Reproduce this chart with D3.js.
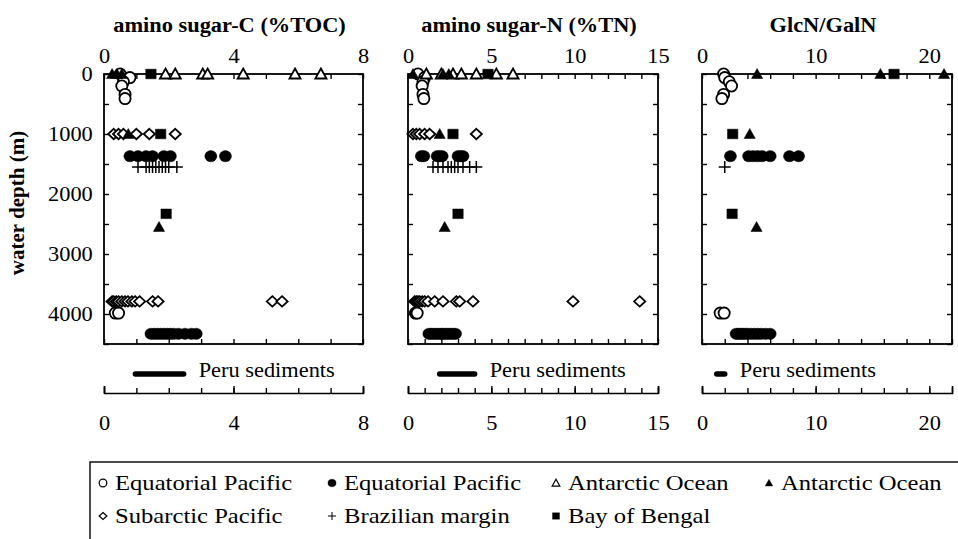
<!DOCTYPE html>
<html>
<head>
<meta charset="utf-8">
<script src="https://cdn.jsdelivr.net/npm/d3@7"></script>
<style>
  body { margin: 0; background: #fff; }
  text { font-family: "Liberation Serif", "Times New Roman", serif; fill: #000; }
</style>
</head>
<body>
<div id="viz"></div>
<script>
// ---- data ----
var panelTitles = ["amino sugar-C (%TOC)", "amino sugar-N (%TN)", "GlcN/GalN"];
var panelLabels = [[0, 4, 8], [0, 5, 10, 15], [0, 10, 20]];
var depthLabels = [0, 1000, 2000, 3000, 4000];

// Equatorial Pacific (open circles)
var eqOpenDepth = [0, 60, 130, 200, 340, 410, 3985, 3985];
var eqOpenC = [0.5, 0.8, 0.6, 0.55, 0.65, 0.65, 0.35, 0.45];
var eqOpenN = [0.6, 1.0, 0.9, 0.85, 0.9, 0.95, 0.45, 0.55];
var eqOpenR = [1.9, 2.0, 2.4, 2.6, 1.9, 1.75, 1.6, 1.95];

// Equatorial Pacific (filled circles)
var eqFillDepth = [1370, 1370, 1370, 1370, 1370, 1370, 1370, 1370,
  4330, 4330, 4330, 4330, 4330, 4330, 4330, 4330, 4330, 4330, 4330, 4330];
var eqFillC = [0.8, 1.05, 1.3, 1.5, 1.85, 2.05, 3.3, 3.75,
  1.45, 1.55, 1.65, 1.75, 1.85, 1.95, 2.05, 2.15, 2.3, 2.5, 2.7, 2.85];
var eqFillN = [0.8, 0.95, 1.75, 1.9, 2.05, 3.0, 3.15, 3.3,
  1.25, 1.4, 1.55, 1.7, 1.85, 2.0, 2.1, 2.25, 2.4, 2.55, 2.7, 2.85];
var eqFillR = [2.5, 4.1, 4.5, 4.9, 5.3, 6.0, 7.7, 8.5,
  3.0, 3.2, 3.4, 3.6, 3.8, 4.0, 4.3, 4.6, 4.9, 5.2, 5.6, 6.0];

// Antarctic Ocean (open triangles)
var antOpenDepth = [0, 0, 0, 0, 0, 0, 0];
var antOpenC = [1.9, 2.2, 3.05, 3.2, 4.3, 5.9, 6.7];
var antOpenN = [1.1, 2.0, 2.7, 3.2, 4.1, 5.3, 6.3];
var antOpenR = [];

// Antarctic Ocean (filled triangles)
var antFillDepth = [0, 0, 0, 1000, 2550];
var antFillC = [0.25, 0.4, 0.55, 0.75, 1.7];
var antFillN = [0.3, 2.1, 2.45, 1.9, 2.2];
var antFillR = [4.85, 15.7, 21.3, 4.2, 4.8];

// Subarctic Pacific (open diamonds)
var subDepth = [1000, 1000, 1000, 1000, 1000, 1000,
  3790, 3790, 3790, 3790, 3790, 3790, 3790, 3790, 3790, 3790, 3790, 3790, 3790, 3790];
var subC = [0.3, 0.45, 0.6, 1.0, 1.4, 2.2,
  0.25, 0.3, 0.38, 0.45, 0.55, 0.65, 0.74, 0.86, 0.96, 1.1, 1.5, 1.67, 5.2, 5.5];
var subN = [0.3, 0.5, 0.7, 1.0, 1.3, 4.1,
  0.4, 0.5, 0.6, 0.7, 0.85, 1.0, 1.2, 1.6, 2.1, 2.9, 3.1, 3.9, 9.9, 13.9];
var subR = [];

// Brazilian margin (crosses)
var brzDepth = [1550, 1550, 1550, 1550, 1550, 1550, 1550, 1550, 1550, 1550];
var brzC = [1.05, 1.3, 1.4, 1.5, 1.6, 1.7, 1.8, 1.9, 2.0, 2.25];
var brzN = [1.5, 1.8, 2.1, 2.4, 2.6, 2.8, 3.0, 3.3, 3.7, 4.1];
var brzR = [2.0];

// Bay of Bengal (filled squares)
var bobDepth = [0, 1000, 2330];
var bobC = [1.45, 1.75, 1.92];
var bobN = [4.8, 2.7, 3.0];
var bobR = [16.9, 2.7, 2.65];

// Peru sediments ranges
var peruC = [0.97, 2.46];
var peruN = [1.9, 4.0];
var peruR = [1.3, 2.0];

var legendLabels = ["Equatorial Pacific", "Equatorial Pacific", "Antarctic Ocean",
  "Antarctic Ocean", "Subarctic Pacific", "Brazilian margin", "Bay of Bengal"];

// ---- layout ----
var width = 958, height = 539,
    yTop = 74, yBot = 344, stretch = 1.12;

var panels = [
  { title: panelTitles[0], domain: [0, 8], range: [104, 363], step: 1, labels: panelLabels[0], peru: peruC, k: "C" },
  { title: panelTitles[1], domain: [0, 15], range: [408, 658], step: 1, labels: panelLabels[1], peru: peruN, k: "N" },
  { title: panelTitles[2], domain: [0, 22], range: [702, 952], step: 2, labels: panelLabels[2], peru: peruR, k: "R" }
];

var shapes = {
  circle: "M5.6,0A5.6,5.6,0,1,1,-5.6,0A5.6,5.6,0,1,1,5.6,0Z",
  dot: "M6,0A6,5.6,0,1,1,-6,0A6,5.6,0,1,1,6,0Z",
  tri: "M0,-5.5L5.6,4.5L-5.6,4.5Z",
  diamond: "M0,-5.2L5.6,0L0,5.2L-5.6,0Z",
  cross: "M-6,0H6M0,-6V6",
  square: "M-5.2,-4.8H5.2V4.8H-5.2Z"
};

// drawing order (open symbols first, filled on top)
var series = [
  { li: 4, shape: "diamond", fill: false, depth: subDepth, C: subC, N: subN, R: subR },
  { li: 0, shape: "circle", fill: false, depth: eqOpenDepth, C: eqOpenC, N: eqOpenN, R: eqOpenR },
  { li: 2, shape: "tri", fill: false, depth: antOpenDepth, C: antOpenC, N: antOpenN, R: antOpenR },
  { li: 5, shape: "cross", fill: false, depth: brzDepth, C: brzC, N: brzN, R: brzR },
  { li: 1, shape: "dot", fill: true, depth: eqFillDepth, C: eqFillC, N: eqFillN, R: eqFillR },
  { li: 3, shape: "tri", fill: true, depth: antFillDepth, C: antFillC, N: antFillN, R: antFillR },
  { li: 6, shape: "square", fill: true, depth: bobDepth, C: bobC, N: bobN, R: bobR }
];

var y = d3.scaleLinear().domain([0, 4500]).range([yTop, yBot]);

var svg = d3.select("#viz").append("svg")
  .attr("width", width)
  .attr("height", height);

function txt(x, yy, s, anchor, size, bold) {
  return svg.append("text")
    .attr("transform", "translate(" + x + "," + yy + ") scale(" + stretch + ",1)")
    .attr("text-anchor", anchor)
    .style("font-size", size + "px")
    .style("font-weight", bold ? "bold" : "normal")
    .text(s);
}

function tidy(sel, keepDomain) {
  if (!keepDomain) sel.select(".domain").remove();
  sel.selectAll("line").attr("stroke", "#000").attr("stroke-width", 1.4);
  sel.selectAll("path").attr("stroke", "#000").attr("stroke-width", 1.6);
  sel.selectAll("text")
    .attr("transform", "scale(" + stretch + ",1)")
    .style("font-size", "20px")
    .style("font-family", "'Liberation Serif', 'Times New Roman', serif")
    .attr("fill", "#000");
}

function mark(g, shape, fill, px, py, scale) {
  g.append("path")
    .attr("d", shapes[shape])
    .attr("transform", "translate(" + px + "," + py + ")" + (scale ? " scale(" + scale + ")" : ""))
    .attr("fill", fill ? "#000" : (shape === "cross" ? "none" : "#fff"))
    .attr("stroke", "#000")
    .attr("stroke-width", shape === "cross" ? 1.5 : (fill ? 0.5 : 1.8));
}

panels.forEach(function (p, i) {
  var x = d3.scaleLinear().domain(p.domain).range(p.range);
  var minor = d3.range(p.domain[0], p.domain[1] + 1e-9, p.step);
  var depthMinor = d3.range(0, 4501, 500);
  var g = svg.append("g");

  // title
  txt((p.range[0] + p.range[1]) / 2 - 4, 32, p.title, "middle", 20, true);

  // frame
  g.append("rect")
    .attr("x", p.range[0]).attr("y", yTop)
    .attr("width", p.range[1] - p.range[0]).attr("height", yBot - yTop)
    .attr("fill", "none").attr("stroke", "#000").attr("stroke-width", 1.8);

  // inward ticks on all four sides
  g.append("g").attr("transform", "translate(0," + yTop + ")")
    .call(d3.axisTop(x).tickValues(minor).tickSize(-5).tickFormat(""))
    .call(tidy);
  g.append("g").attr("transform", "translate(0," + yBot + ")")
    .call(d3.axisBottom(x).tickValues(minor).tickSize(-5).tickFormat(""))
    .call(tidy);
  g.append("g").attr("transform", "translate(" + p.range[0] + ",0)")
    .call(d3.axisLeft(y).tickValues(depthMinor).tickSize(-5).tickFormat(""))
    .call(tidy);
  g.append("g").attr("transform", "translate(" + p.range[1] + ",0)")
    .call(d3.axisRight(y).tickValues(depthMinor).tickSize(-5).tickFormat(""))
    .call(tidy);

  // top labels
  g.append("g").attr("transform", "translate(0," + yTop + ")")
    .call(d3.axisTop(x).tickValues(p.labels).tickSize(0).tickPadding(11).tickFormat(d3.format("d")))
    .call(tidy);

  if (i === 0) {
    g.append("g").attr("transform", "translate(" + p.range[0] + ",0)")
      .call(d3.axisLeft(y).tickValues(depthLabels).tickSize(0).tickPadding(10).tickFormat(d3.format("d")))
      .call(tidy);
  }

  // points
  var pg = g.append("g");
  series.forEach(function (s) {
    s[p.k].forEach(function (v, j) {
      mark(pg, s.shape, s.fill, x(v), y(s.depth[j]));
    });
  });

  // Peru sediments strip
  var axisY = 393;
  svg.append("line")
    .attr("x1", x(p.peru[0])).attr("x2", x(p.peru[1]))
    .attr("y1", 374).attr("y2", 374)
    .attr("stroke", "#000").attr("stroke-width", 5.5).attr("stroke-linecap", "round");
  txt(x(p.peru[1]) + 15, 377, "Peru sediments", "start", 20, false);

  var pa = svg.append("g").attr("transform", "translate(0," + axisY + ")");
  pa.append("g")
    .call(d3.axisTop(x).tickValues(minor).tickSize(5).tickSizeOuter(7).tickFormat(""))
    .call(tidy, true);
  pa.append("g")
    .call(d3.axisTop(x).tickValues(p.labels).tickSize(7).tickFormat(""))
    .call(tidy);
  pa.append("g")
    .call(d3.axisBottom(x).tickValues(p.labels).tickSize(0).tickPadding(23).tickFormat(d3.format("d")))
    .call(tidy);
});

// y-axis title
svg.append("text")
  .attr("transform", "translate(24,203) rotate(-90)")
  .attr("text-anchor", "middle")
  .style("font-size", "21px")
  .style("font-weight", "bold")
  .text("water depth (m)");

// legend
var legend = svg.append("g");
legend.append("rect")
  .attr("x", 90).attr("y", 462)
  .attr("width", 900).attr("height", 100)
  .attr("fill", "none").attr("stroke", "#000").attr("stroke-width", 1.4);

var legCols = [103, 332, 556, 769];
var legRows = [483, 516];
var byLegend = series.slice().sort(function (a, b) { return a.li - b.li; });
byLegend.forEach(function (s, i) {
  var cx = legCols[i % 4], cy = legRows[Math.floor(i / 4)];
  mark(legend, s.shape, s.fill, cx, cy, 0.68);
  txt(cx + 12, cy + 7, legendLabels[i], "start", 22, false);
});
</script>
</body>
</html>
